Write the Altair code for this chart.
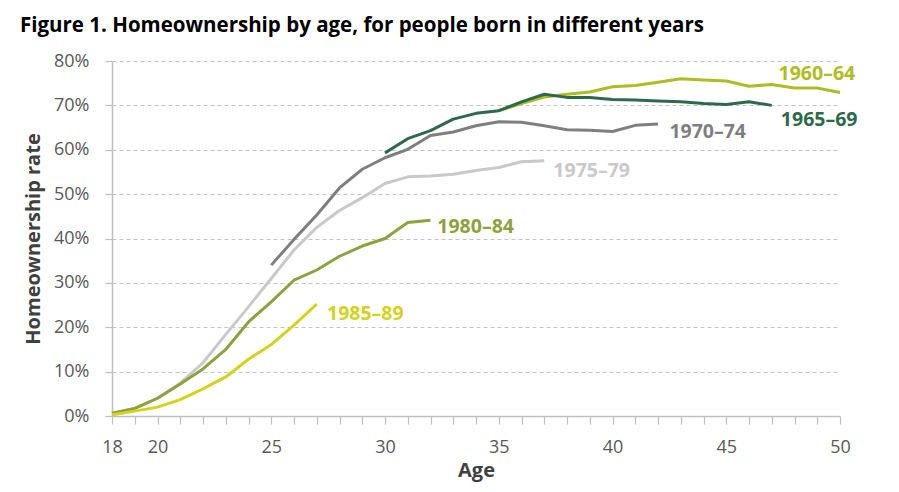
import altair as alt
import pandas as pd

ages_1960 = list(range(35, 51))
rate_1960 = [68.8, 70.4, 71.9, 72.5, 73.0, 74.2, 74.5, 75.2, 76.0, 75.7, 75.5, 74.3, 74.7, 73.9, 73.9, 72.9]
ages_1965 = list(range(30, 48))
rate_1965 = [59.3, 62.5, 64.3, 66.9, 68.2, 68.8, 70.8, 72.5, 71.8, 71.8, 71.3, 71.2, 71.0, 70.8, 70.4, 70.2, 70.8, 70.0]
ages_1970 = list(range(25, 43))
rate_1970 = [34.0, 39.8, 45.3, 51.4, 55.6, 58.2, 60.1, 63.2, 64.0, 65.4, 66.3, 66.2, 65.4, 64.5, 64.4, 64.1, 65.5, 65.8]
ages_1975 = list(range(18, 38))
rate_1975 = [0.6, 1.7, 4.0, 7.4, 12.0, 18.4, 24.6, 31.0, 37.4, 42.5, 46.3, 49.2, 52.4, 53.9, 54.1, 54.5, 55.3, 56.0, 57.3, 57.5]
ages_1980 = list(range(18, 33))
rate_1980 = [0.6, 1.7, 4.0, 7.2, 10.6, 15.0, 21.2, 25.7, 30.6, 32.9, 36.0, 38.3, 40.0, 43.6, 44.1]
ages_1985 = list(range(18, 28))
rate_1985 = [0.3, 1.1, 2.0, 3.7, 6.1, 8.8, 12.8, 16.1, 20.5, 25.2]

cohorts = ["1960–64", "1965–69", "1970–74", "1975–79", "1980–84", "1985–89"]
colors = ["#adbd22", "#2d6a4c", "#7f7f7f", "#c9c9c9", "#8da23c", "#d4d31c"]

# label anchor positions (age, rate) for the series labels
label_age = [47.3, 47.4, 42.5, 37.4, 32.3, 27.45]
label_rate = [77.0, 66.7, 64.0, 55.2, 42.6, 23.0]

series = [
    (ages_1960, rate_1960), (ages_1965, rate_1965), (ages_1970, rate_1970),
    (ages_1975, rate_1975), (ages_1980, rate_1980), (ages_1985, rate_1985),
]
rows = []
for i, (a, r) in enumerate(series):
    for age, val in zip(a, r):
        rows.append({"cohort": cohorts[i], "order": i, "age": age, "rate": val})
df = pd.DataFrame(rows)
labels_df = pd.DataFrame({"cohort": cohorts, "age": label_age, "rate": label_rate})

FONT = "Open Sans"
color_scale = alt.Scale(domain=cohorts, range=colors)
x_scale = alt.Scale(domain=[18, 50], nice=False, zero=False)
y_scale = alt.Scale(domain=[0, 80], nice=False)

lines = alt.Chart(df).mark_line(strokeWidth=3, strokeJoin="round").encode(
    x=alt.X("age:Q", scale=x_scale, title="Age",
            axis=alt.Axis(values=list(range(18, 51)), tickCount=60,
                          labelExpr="(datum.value == 18 || datum.value % 5 == 0) ? '' + datum.value : ''",
                          grid=False, tickSize=8, labelPadding=14, titlePadding=4,
                          labelFlush=False, labelOverlap=False, labelBound=False)),
    y=alt.Y("rate:Q", scale=y_scale, title="Homeownership rate",
            axis=alt.Axis(values=list(range(0, 81, 10)), labelExpr="datum.value + '%'",
                          grid=True, gridDash=[4, 3], gridColor="#c4c4c4", gridWidth=1,
                          tickSize=7, labelPadding=16, titlePadding=10, labelOverlap=False)),
    color=alt.Color("cohort:N", scale=color_scale, legend=None),
    detail="order:O",
)

texts = alt.Chart(labels_df).mark_text(
    align="left", baseline="middle", font=FONT, fontSize=19.5, fontWeight="bold"
).encode(
    x=alt.X("age:Q", scale=x_scale),
    y=alt.Y("rate:Q", scale=y_scale),
    text="cohort:N",
    color=alt.Color("cohort:N", scale=color_scale, legend=None),
)

chart = alt.layer(lines, texts).properties(
    width=728,
    height=355,
    title=alt.TitleParams(
        "Figure 1. Homeownership by age, for people born in different years",
        anchor="start", frame="group", dx=-92, offset=16,
        font=FONT, fontSize=20.5, fontWeight="bold", color="#000000",
    ),
    autosize=alt.AutoSizeParams(type="none"),
    padding={"left": 104, "top": 53, "right": 51, "bottom": 68},
).configure_view(stroke=None).configure_axis(
    labelFont=FONT, titleFont=FONT, labelFontSize=18, titleFontSize=20,
    labelColor="#595959", titleColor="#404040", titleFontWeight="bold",
    domainColor="#bfbfbf", tickColor="#bfbfbf", domainWidth=1.5, tickWidth=1.2,
    labelOverlap=False,
)

chart.save("out.html", embed_options={"renderer": "svg", "actions": False})
